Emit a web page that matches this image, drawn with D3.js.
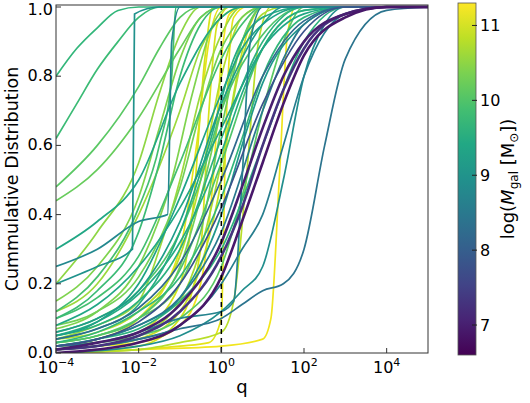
<!DOCTYPE html><html><head><meta charset="utf-8">
<script src="https://cdn.jsdelivr.net/npm/d3@7"></script>
<style>body{margin:0;background:#fff}text{font-family:"DejaVu Sans",sans-serif}</style></head><body>
<svg id="c" width="530" height="403"></svg>
<script>
const xTicks=[-4,-2,0,2,4];
const yTicks=[0,0.2,0.4,0.6,0.8,1.0];
const cbTicks=[7,8,9,10,11];
// each curve: mass (log Mgal), points [log10 q, cumulative]
const masses=[9.7,9.8,10.1,10.2,9.0,9.4,8.8,10.5,10.6,9.9,10.3,9.2,9.6,10.8,11.0,10.0,9.5,10.4,9.1,10.7,11.1,8.7,9.3,10.2,9.8,10.9,8.9,9.6,10.1,10.4,11.2,9.7,10.6,8.6,10.0,9.4,10.3,11.0,9.5,8.4,7.0,6.9,7.3,8.5,11.2,11.1,7.8,8.2,10.8,9.9];
const curves=[
[[-4,0.8],[-3.5,0.88],[-3,0.94],[-2.5,0.99],[-2,1],[5,1]],
[[-4,0.62],[-3.5,0.72],[-3,0.82],[-2.5,0.9],[-2,0.97],[-1.5,1],[5,1]],
[[-4,0.48],[-3,0.6],[-2,0.77],[-1.5,0.88],[-1,0.97],[-0.5,1],[5,1]],
[[-4,0.44],[-3,0.53],[-2,0.68],[-1,0.88],[-0.5,0.97],[0,1],[5,1]],
[[-4,0.2],[-3,0.25],[-2.15,0.3],[-2.1,0.98],[-1.5,1],[5,1]],
[[-4,0.3],[-3,0.38],[-2,0.5],[-1,0.78],[0,0.97],[0.5,1],[5,1]],
[[-4,0.25],[-3,0.3],[-2,0.38],[-1.3,0.4],[-1.2,0.9],[-1,1],[5,1]],
[[-4,0.2],[-3,0.35],[-2,0.55],[-1.5,0.75],[-1,0.92],[-0.5,1],[5,1]],
[[-4,0.12],[-3,0.2],[-2,0.4],[-1,0.7],[-0.5,0.88],[0,0.97],[0.5,1],[5,1]],
[[-4,0.1],[-3,0.16],[-2,0.28],[-1,0.55],[0,0.85],[0.5,0.95],[1,1],[5,1]],
[[-4,0.08],[-3,0.12],[-2,0.22],[-1,0.48],[-0.5,0.7],[0,0.88],[1,1],[5,1]],
[[-4,0.06],[-3,0.1],[-2,0.18],[-1,0.38],[0,0.72],[1,0.95],[1.5,1],[5,1]],
[[-4,0.05],[-3,0.08],[-2,0.15],[-1,0.3],[0,0.62],[1,0.9],[2,1],[5,1]],
[[-4,0.04],[-3,0.06],[-2,0.12],[-1,0.28],[-0.5,0.5],[0,0.8],[0.5,0.97],[1,1],[5,1]],
[[-4,0.02],[-3,0.03],[-2,0.06],[-1,0.2],[-0.7,0.4],[-0.4,0.85],[-0.2,1],[5,1]],
[[-4,0.03],[-3,0.05],[-2,0.1],[-1,0.24],[0,0.55],[1,0.88],[2,0.99],[3,1],[5,1]],
[[-4,0.04],[-3,0.07],[-2,0.14],[-1,0.35],[-0.3,0.6],[0.3,0.85],[1,0.97],[2,1],[5,1]],
[[-4,0.07],[-3,0.12],[-2,0.25],[-1.2,0.5],[-0.7,0.75],[-0.2,0.95],[0.2,1],[5,1]],
[[-4,0.02],[-3,0.04],[-2,0.08],[-1,0.16],[0,0.4],[0.5,0.6],[1,0.78],[2,0.95],[3,1],[5,1]],
[[-4,0.01],[-3,0.02],[-2,0.05],[-1,0.15],[-0.5,0.3],[0,0.55],[0.5,0.85],[1,0.98],[1.5,1],[5,1]],
[[-4,0.0],[-2,0.01],[-1,0.02],[-0.3,0.03],[0,0.1],[0.1,0.6],[0.3,0.97],[0.6,1],[5,1]],
[[-4,0.02],[-3,0.03],[-2,0.06],[-1,0.1],[0,0.12],[0.3,0.15],[0.5,0.5],[0.7,0.9],[1,1],[5,1]],
[[-4,0.05],[-3,0.09],[-2,0.2],[-1,0.45],[0,0.75],[0.5,0.88],[1,0.95],[2,1],[5,1]],
[[-4,0.03],[-3,0.05],[-2,0.1],[-1,0.2],[-0.5,0.35],[0,0.65],[0.5,0.9],[1,1],[5,1]],
[[-4,0.1],[-3,0.18],[-2,0.35],[-1.5,0.55],[-1,0.8],[-0.5,0.95],[0,1],[5,1]],
[[-4,0.01],[-3,0.02],[-2,0.04],[-1,0.12],[-0.5,0.25],[0,0.5],[0.3,0.75],[0.7,0.95],[1,1],[5,1]],
[[-4,0.0],[-2,0.02],[-1,0.05],[0,0.12],[0.5,0.18],[1,0.25],[1.5,0.5],[2,0.8],[2.5,0.95],[3,1],[5,1]],
[[-4,0.02],[-3,0.04],[-2,0.07],[-1,0.15],[0,0.3],[1,0.6],[2,0.9],[3,1],[5,1]],
[[-4,0.02],[-3,0.03],[-2,0.05],[-1,0.1],[0,0.25],[0.5,0.45],[1,0.7],[1.5,0.9],[2,1],[5,1]],
[[-4,0.15],[-3,0.25],[-2,0.45],[-1.5,0.65],[-1,0.85],[-0.5,0.97],[0,1],[5,1]],
[[-4,0.01],[-3,0.02],[-2,0.03],[-1,0.08],[-0.5,0.2],[-0.2,0.5],[0,0.85],[0.2,0.98],[0.5,1],[5,1]],
[[-4,0.03],[-3,0.06],[-2,0.12],[-1,0.22],[0,0.45],[0.5,0.62],[1,0.8],[2,0.97],[3,1],[5,1]],
[[-4,0.04],[-3,0.08],[-2,0.15],[-1.5,0.3],[-1,0.5],[-0.5,0.75],[0,0.92],[0.5,1],[5,1]],
[[-4,0.01],[-3,0.02],[-2,0.04],[-1,0.08],[0,0.2],[0.5,0.3],[1,0.4],[1.5,0.6],[2,0.8],[3,0.98],[4,1],[5,1]],
[[-4,0.06],[-3,0.1],[-2,0.18],[-1,0.35],[-0.5,0.5],[0,0.7],[1,0.92],[2,1],[5,1]],
[[-4,0.08],[-3,0.14],[-2,0.25],[-1,0.42],[0,0.65],[1,0.88],[2,0.98],[3,1],[5,1]],
[[-4,0.03],[-3,0.05],[-2,0.1],[-1,0.25],[-0.5,0.45],[0,0.7],[0.5,0.9],[1,1],[5,1]],
[[-4,0.0],[-2,0.02],[-1,0.1],[-0.5,0.3],[-0.3,0.7],[-0.1,0.95],[0.2,1],[5,1]],
[[-4,0.05],[-3,0.09],[-2,0.17],[-1,0.32],[0,0.58],[0.5,0.75],[1,0.88],[2,0.99],[3,1],[5,1]],
[[-4,0.01],[-3,0.02],[-2,0.04],[-1,0.07],[0,0.1],[0.5,0.14],[1,0.18],[1.5,0.2],[2,0.3],[2.5,0.6],[3,0.85],[4,0.99],[5,1]],
[[-4,0.01],[-3,0.03],[-2,0.06],[-1,0.14],[0,0.32],[0.5,0.48],[1,0.65],[1.5,0.8],[2,0.9],[3,0.98],[4,1],[5,1]],
[[-4,0.0],[-3,0.01],[-2,0.03],[-1,0.08],[0,0.22],[0.5,0.38],[1,0.55],[1.5,0.72],[2,0.86],[3,0.97],[4,1],[5,1]],
[[-4,0.01],[-3,0.02],[-2,0.05],[-1,0.12],[0,0.28],[0.5,0.42],[1,0.6],[1.5,0.76],[2,0.88],[3,0.98],[4,1],[5,1]],
[[-4,0.02],[-3,0.04],[-2,0.08],[-1,0.16],[0,0.35],[1,0.7],[1.5,0.85],[2,0.95],[3,1],[5,1]],
[[-4,0.0],[-2,0.01],[0,0.02],[1,0.04],[1.2,0.1],[1.4,0.5],[1.6,0.92],[1.8,1],[5,1]],
[[-4,0.02],[-3,0.04],[-2,0.1],[-1,0.3],[-0.6,0.6],[-0.3,0.9],[0,1],[5,1]],
[[-4,0.02],[-3,0.04],[-2,0.09],[-1,0.2],[0,0.42],[1,0.72],[2,0.93],[3,1],[5,1]],
[[-4,0.04],[-3,0.07],[-2,0.13],[-1,0.26],[0,0.5],[1,0.8],[2,0.96],[3,1],[5,1]],
[[-4,0.0],[-2,0.01],[-1,0.03],[0,0.06],[0.3,0.15],[0.6,0.5],[0.9,0.9],[1.2,1],[5,1]],
[[-4,0.12],[-3,0.22],[-2,0.42],[-1.5,0.6],[-1.2,0.8],[-1.1,1],[5,1]]
];
const svg=d3.select("#c");
const L=56,R=428,T=5,B=353;
const x=d3.scaleLinear().domain([-4,5]).range([L,R]);
const y=d3.scaleLinear().domain([0,1.0]).range([B,T+2]);
const cmin=6.6,cmax=11.3;
const col=m=>d3.interpolateViridis((m-cmin)/(cmax-cmin));
svg.append("clipPath").attr("id","cp").append("rect").attr("x",L).attr("y",T).attr("width",R-L).attr("height",B-T);
const line=d3.line().x(d=>x(d[0])).y(d=>y(d[1])).curve(d3.curveMonotoneX);
const g=svg.append("g").attr("clip-path","url(#cp)");
const order=d3.range(curves.length).sort((a,b)=>masses[b]-masses[a]);
order.forEach(i=>g.append("path").attr("d",line(curves[i])).attr("fill","none")
 .attr("stroke",col(masses[i])).attr("stroke-width",masses[i]<7.5?2.6:1.7));
svg.append("line").attr("x1",x(0)).attr("x2",x(0)).attr("y1",T).attr("y2",B).attr("stroke","#000").attr("stroke-width",1.5).attr("stroke-dasharray","5,4");
svg.append("rect").attr("x",L).attr("y",T).attr("width",R-L).attr("height",B-T).attr("fill","none").attr("stroke","#333").attr("stroke-width",1);
xTicks.forEach(t=>{
 svg.append("line").attr("x1",x(t)).attr("x2",x(t)).attr("y1",B).attr("y2",B-5).attr("stroke","#333");
 const tx=svg.append("text").attr("x",x(t)).attr("y",B+20).attr("text-anchor","middle").attr("font-size",16);
 tx.append("tspan").text("10");tx.append("tspan").attr("dy",-7).attr("font-size",11).text(t<0?"\u2212"+(-t):t);
});
svg.append("text").attr("x",(L+R)/2).attr("y",393).attr("text-anchor","middle").attr("font-size",18).text("q");
yTicks.forEach(t=>{
 svg.append("line").attr("x1",L).attr("x2",L+5).attr("y1",y(t)).attr("y2",y(t)).attr("stroke","#333");
 svg.append("text").attr("x",L-3).attr("y",y(t)+(t===1?8:5)).attr("text-anchor","end").attr("font-size",16).text(t.toFixed(1));
});
svg.append("text").attr("transform",`translate(18,${(T+B)/2}) rotate(-90)`).attr("text-anchor","middle").attr("font-size",17.5).text("Cummulative Distribution");
// colorbar
const cbx=458,cbw=18,cbT=3,cbB=355;
const cy=d3.scaleLinear().domain([cmin,cmax]).range([cbB,cbT]);
const grad=svg.append("defs").append("linearGradient").attr("id","gr").attr("x1",0).attr("x2",0).attr("y1",1).attr("y2",0);
d3.range(0,1.01,0.1).forEach(s=>grad.append("stop").attr("offset",s).attr("stop-color",d3.interpolateViridis(s)));
svg.append("rect").attr("x",cbx).attr("y",cbT).attr("width",cbw).attr("height",cbB-cbT).attr("fill","url(#gr)").attr("stroke","#555").attr("stroke-width",0.8);
cbTicks.forEach(t=>{
 svg.append("line").attr("x1",cbx+cbw-4).attr("x2",cbx+cbw+1).attr("y1",cy(t)).attr("y2",cy(t)).attr("stroke","#222");
 svg.append("text").attr("x",cbx+cbw+4).attr("y",cy(t)+6).attr("font-size",16).text(t);
});
const lab=svg.append("text").attr("transform",`translate(514,${(cbT+cbB)/2}) rotate(-90)`).attr("text-anchor","middle").attr("font-size",18);
lab.append("tspan").text("log(");lab.append("tspan").attr("font-style","italic").text("M");
lab.append("tspan").attr("font-size",12).attr("dy",4).text("gal");
lab.append("tspan").attr("dy",-4).text(" [M");lab.append("tspan").attr("font-size",12).attr("dy",4).text("\u2299");
lab.append("tspan").attr("dy",-4).text("])");
</script></body></html>
